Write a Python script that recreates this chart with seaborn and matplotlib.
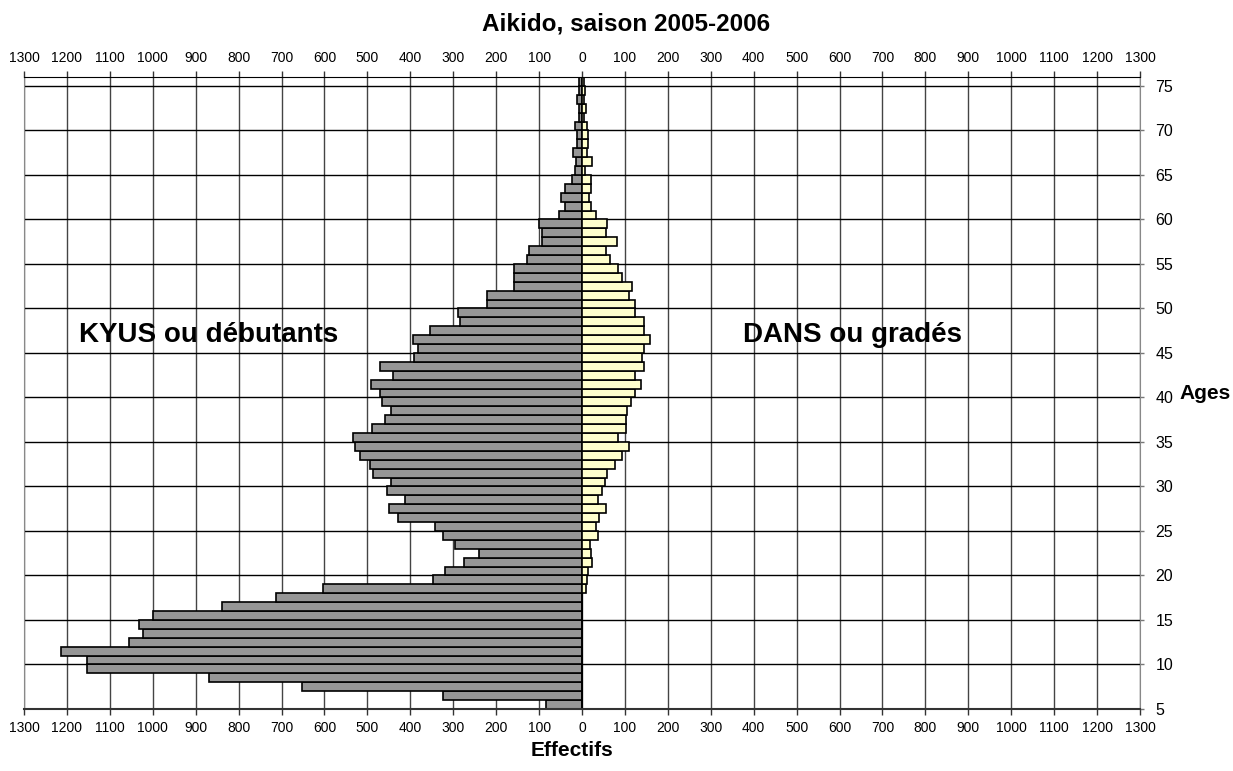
import numpy as np
import pandas as pd
import matplotlib
matplotlib.use("Agg")
import matplotlib.pyplot as plt
import seaborn as sns

# ages 5..75, one bar per year of age
ages = np.arange(5, 76)

kyus = [85, 324, 652, 869, 1154, 1154, 1214, 1056, 1023, 1031,      # 5-14
        999, 838, 712, 603, 348, 320, 276, 241, 297, 324,           # 15-24
        343, 429, 450, 412, 455, 446, 487, 495, 518, 529,           # 25-34
        534, 489, 458, 446, 465, 470, 491, 440, 470, 391,           # 35-44
        382, 393, 354, 284, 290, 222, 222, 158, 158, 158,           # 45-54
        128, 124, 93, 93, 100, 54, 39, 48, 39, 23,                  # 55-64
        17, 14, 21, 11, 12, 16, 8, 8, 11, 8, 6]                     # 65-75

dans = [0, 0, 0, 0, 0, 0, 0, 0, 0, 0,                               # 5-14
        0, 0, 0, 9, 12, 13, 23, 20, 19, 37,                         # 15-24
        33, 39, 55, 37, 46, 53, 58, 78, 94, 110,                    # 25-34
        83, 102, 103, 105, 114, 123, 138, 123, 144, 139,            # 35-44
        144, 159, 144, 145, 123, 124, 109, 116, 94, 83,             # 45-54
        66, 56, 81, 57, 59, 33, 20, 16, 20, 21,                     # 55-64
        7, 23, 12, 14, 14, 11, 5, 9, 5, 7, 5]                       # 65-75

xticks = np.arange(-1300, 1301, 100)
yticks = np.arange(5, 76, 5)

df = pd.DataFrame({"age": ages, "kyus": kyus, "dans": dans})
df["pos"] = df["age"] + 0.5
df["kyus_neg"] = -df["kyus"]

sns.set_style("white")
plt.rcParams["font.family"] = ["Liberation Sans", "DejaVu Sans"]
plt.rcParams["text.color"] = "black"
plt.rcParams["xtick.labelcolor"] = "black"
plt.rcParams["ytick.labelcolor"] = "black"

fig = plt.figure(figsize=(12.33, 7.71), dpi=100)
ax = fig.add_axes([24 / 1233, 1 - 709 / 771, (1140 - 24) / 1233, (709 - 77) / 771])

sns.barplot(data=df, x="kyus_neg", y="pos", orient="h", native_scale=True, width=1,
            color="#969696", saturation=1, edgecolor="black", linewidth=1.2,
            errorbar=None, ax=ax)
sns.barplot(data=df, x="dans", y="pos", orient="h", native_scale=True, width=1,
            color="#FFFFCC", saturation=1, edgecolor="black", linewidth=1.2,
            errorbar=None, ax=ax)

ax.set_xlim(-1300, 1300)
ax.set_ylim(5, 76)
ax.set_xticks(xticks)
ax.set_xticklabels([str(abs(v)) for v in xticks])
ax.set_yticks(yticks)
ax.set_yticklabels([str(v) for v in yticks])
ax.yaxis.tick_right()
ax.set_xlabel("")
ax.set_ylabel("")

ax.tick_params(axis="x", top=True, bottom=True, labeltop=True, labelbottom=True,
               direction="out", length=4, width=1, color="#333333", pad=5,
               labelsize=10, labelcolor="black")
ax.tick_params(axis="y", left=False, right=True, labelright=True, labelleft=False,
               direction="out", length=3, width=1, color="#777777", pad=8,
               labelsize=11.5, labelcolor="black")

ax.set_axisbelow(True)
ax.grid(True, axis="x", color="#444444", linewidth=1)
ax.grid(True, axis="y", color="black", linewidth=1)

ax.spines["top"].set_color("black")
ax.spines["bottom"].set_color("#333333")
ax.spines["bottom"].set_linewidth(1.5)
ax.spines["left"].set_color("#888888")
ax.spines["right"].set_color("#888888")
for s in ax.spines.values():
    s.set_visible(True)

ax.text(-1171, 46.2, "KYUS ou débutants", fontsize=20, fontweight="bold",
        ha="left", va="baseline", color="black")
ax.text(376, 46.2, "DANS ou gradés", fontsize=20, fontweight="bold",
        ha="left", va="baseline", color="black")
ax.text(1393, 40.4, "Ages", fontsize=15, fontweight="bold", ha="left",
        va="center", clip_on=False, color="black")

fig.text(626 / 1233, 1 - 24 / 771, "Aikido, saison 2005-2006", fontsize=17.5,
         fontweight="bold", ha="center", va="center", color="black")
fig.text(572 / 1233, 1 - 750 / 771, "Effectifs", fontsize=15,
         fontweight="bold", ha="center", va="center", color="black")

fig.savefig("out.png", dpi=100)
